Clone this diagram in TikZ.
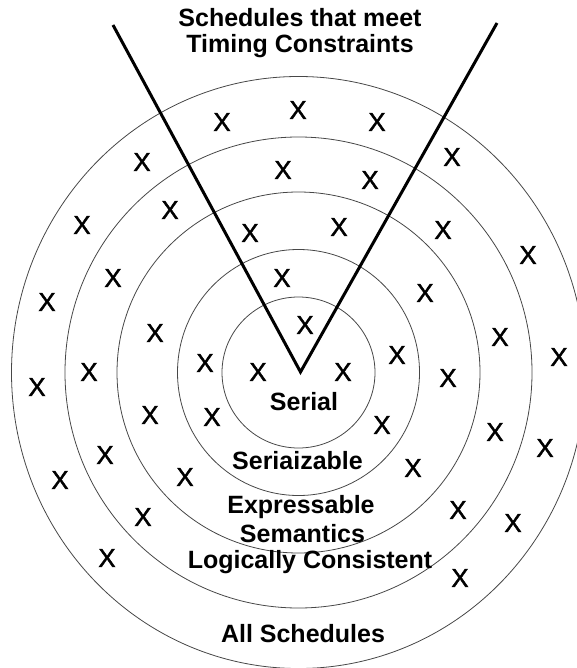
\documentclass[tikz,border=0pt]{standalone}
\usepackage{fontspec}
\setmainfont{Liberation Sans}
\newfontfamily\xmarkfont[FakeBold=1.6]{Liberation Sans}
\begin{document}
\begin{tikzpicture}[x=1pt,y=-1pt,
  ring/.style={draw=black!72,line width=0.8pt},
  vline/.style={draw=black,line width=3pt},
  xm/.style={inner sep=0pt,font=\xmarkfont\fontsize{26}{26}\selectfont},
  lab/.style={inner sep=0pt,anchor=base,font=\fontsize{25}{25}\selectfont\bfseries}]
\useasboundingbox (0,0) rectangle (576,668);
\coordinate (c) at (298.5,372.5);
% rings
\draw[ring] (c) ellipse [x radius=76.5pt, y radius=75.5pt];
\draw[ring] (c) ellipse [x radius=121pt, y radius=123pt];
\draw[ring] (c) ellipse [x radius=181.5pt, y radius=180.5pt];
\draw[ring] (c) ellipse [x radius=233.5pt, y radius=235.5pt];
\draw[ring] (c) ellipse [x radius=287pt, y radius=296pt];
% V
\coordinate (vtx) at (300.5,372);
\coordinate (vl) at (113,25);
\coordinate (vr) at (497,23);
\draw[vline] (vl) -- (vtx) -- (vr);
% labels
\node[lab] (t1) at (300,27) {Schedules that meet};
\node[lab] (t2) at (300,53) {Timing Constraints};
\node[lab] (l1) at (304,410) {Serial};
\node[lab] (l2) at (297.5,469) {Seriaizable};
\node[lab] (l3) at (301,513) {Expressable};
\node[lab] (l4) at (302.5,542) {Semantics};
\node[lab] (l5) at (310,568) {Logically Consistent};
\node[lab] (l6) at (303,642) {All Schedules};
% X marks
\foreach \p [count=\i] in {(222,122),(298,110),(377,122),(142,162),(283,170),(452,157),(370,180),(170,210),(82,225),(250,233),(339,227),(443,230),(528,255),(113,278),(282,278),(425,293),(47,302),(155,333),(305,325),(500,337),(397,355),(559,357),(205,363),(258,372),(343,372),(89,372),(37,387),(448,378),(150,415),(212,417),(382,425),(495,432),(545,448),(105,455),(60,480),(185,477),(413,468),(143,517),(458,510),(513,523),(107,558),(460,578)}
  \node[xm] (x\i) at \p {X};
\end{tikzpicture}
\end{document}
